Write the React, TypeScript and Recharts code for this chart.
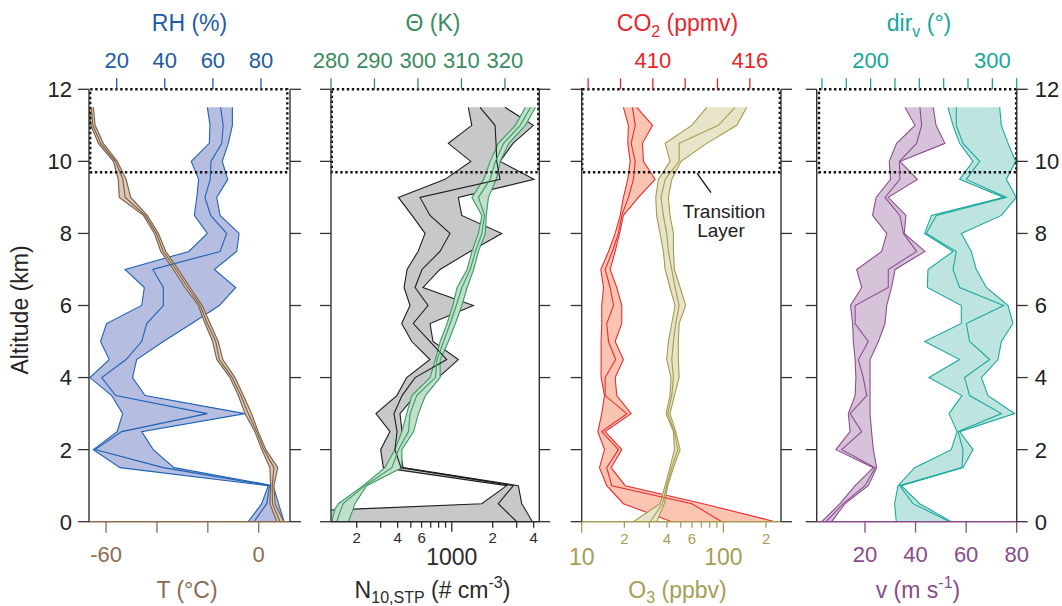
import React from 'react';
import { ComposedChart, Area, Line, XAxis, YAxis, ReferenceArea, ReferenceLine } from 'recharts';

const FONT = '"Liberation Sans", Arial, Helvetica, sans-serif';

// ---------- altitude levels (km) ----------
const ALT = [0, 0.5, 1, 1.5, 2, 2.5, 3, 3.5, 4, 4.5, 5, 5.5, 6, 6.5, 7, 7.5, 8, 8.5, 9, 9.5, 10, 10.5, 11, 11.5];
const ALT_N = [0, 0.35, 0.5, 1, 1.5, 2, 2.5, 3, 3.5, 4, 4.5, 5, 5.5, 6, 6.5, 7, 7.5, 8, 8.5, 9, 9.5, 10, 10.5, 11, 11.5];

// ---------- panel 1: RH (%) and T (°C) ----------
const rhLow = [74.7, 80.3, 83.0, 21.4, 10.3, 20.2, 22.5, 17.9, 8.9, 16.9, 13.3, 15.8, 30.4, 31.5, 23.5, 50.0, 57.7, 52.3, 53.3, 54.1, 51.0, 58.5, 58.8, 57.7];
const rhMed = [77.1, 82.4, 83.5, 39.4, 11.0, 22.1, 57.7, 19.6, 13.8, 23.9, 30.4, 32.5, 39.4, 39.4, 35.0, 63.0, 65.7, 59.1, 56.7, 58.9, 59.2, 63.7, 64.3, 63.2];
const rhHigh = [89.6, 87.3, 85.1, 43.8, 35.2, 30.4, 73.3, 31.8, 26.6, 28.3, 39.4, 51.2, 62.7, 69.5, 60.6, 69.9, 70.9, 63.0, 61.6, 66.2, 63.9, 66.4, 68.1, 68.1];
const tLow = [7.1, 4.4, 4.7, 4.4, 1.2, -1.5, -5.4, -8.0, -11.3, -16.5, -18.1, -21.1, -23.7, -29.0, -33.5, -38.5, -41.0, -45.3, -54.8, -55.2, -57.1, -63.0, -66.0, -66.6];
const tMed = [8.4, 5.4, 5.3, 6.0, 2.0, -0.8, -4.1, -7.0, -10.4, -15.5, -16.9, -20.2, -23.0, -27.9, -32.5, -37.5, -40.2, -44.6, -52.5, -53.4, -56.3, -62.1, -65.2, -65.8];
const tHigh = [9.9, 6.4, 6.0, 7.5, 2.8, -0.2, -2.8, -6.0, -9.3, -14.1, -15.9, -19.1, -22.2, -27.0, -31.6, -36.5, -39.4, -43.8, -50.3, -52.1, -55.6, -61.1, -64.3, -65.0];

// ---------- panel 2: Theta (K) and N10,STP (# cm-3), on ALT_N ----------
const thLow = [280.2, 280.9, 281.7, 287.4, 292.4, 294.7, 296.3, 297.4, 298.6, 302.8, 304.0, 305.1, 306.7, 308.0, 309.0, 311.3, 312.4, 313.9, 314.7, 312.4, 315.1, 316.6, 318.5, 322.4, 324.7];
const thMed = [281.3, 282.3, 282.8, 287.8, 294.0, 295.5, 297.8, 298.2, 299.7, 304.0, 304.4, 305.9, 307.4, 308.8, 310.1, 312.0, 313.2, 314.7, 315.3, 313.9, 316.6, 317.8, 319.7, 323.5, 325.9];
const thHigh = [284.0, 285.1, 285.5, 288.2, 296.3, 296.3, 299.0, 300.1, 301.7, 305.1, 305.1, 307.0, 308.6, 310.1, 311.3, 312.8, 313.9, 315.5, 315.7, 316.2, 318.0, 318.9, 320.9, 324.7, 327.0];
const nLow = [1, 189, 1660, 2535, 314, 300, 351, 277, 394, 466, 692, 508, 428, 493, 446, 469, 565, 636, 510, 405, 892, 1380, 943, 1403, 1323];
const nMed = [3002, 2414, 2198, 2835, 423, 382, 396, 376, 431, 537, 918, 692, 521, 669, 537, 604, 819, 970, 692, 584, 2263, 2140, 2115, 2080, 1613];
const nHigh = [3910, 3455, 3268, 3086, 438, 416, 431, 416, 537, 795, 1117, 728, 692, 1440, 614, 819, 1361, 2329, 1183, 1117, 4024, 2263, 2820, 3977, 2461];

// ---------- panel 3: CO2 (ppmv) and O3 (ppbv) ----------
const co2Low = [411.17, 408.18, 407.15, 406.70, 407.01, 406.60, 406.84, 407.01, 406.80, 406.80, 406.80, 406.84, 406.84, 406.95, 406.78, 407.26, 407.67, 407.98, 408.18, 408.45, 408.60, 408.45, 408.49, 408.18];
const co2Med = [414.27, 412.41, 407.46, 407.15, 407.87, 406.84, 408.39, 407.05, 407.05, 407.70, 407.26, 407.15, 407.57, 407.36, 407.05, 407.50, 407.87, 408.08, 408.49, 408.80, 408.91, 408.66, 408.91, 408.74];
const co2High = [417.56, 413.11, 408.29, 407.42, 408.08, 407.05, 408.66, 407.77, 407.67, 408.18, 407.67, 408.08, 408.08, 407.77, 407.36, 407.67, 407.94, 408.18, 409.11, 410.14, 409.42, 409.36, 409.98, 409.01];
const o3Low = [23.2, 35.7, 38.8, 42.0, 45.1, 44.4, 39.4, 42.0, 42.7, 39.8, 40.9, 43.2, 45.6, 42.0, 38.8, 37.7, 35.7, 33.8, 33.3, 34.8, 42.0, 38.8, 59.8, 76.3];
const o3Med = [30.4, 37.1, 39.8, 43.2, 47.6, 45.1, 40.5, 43.2, 44.4, 43.2, 44.4, 46.1, 48.7, 45.6, 43.2, 40.9, 39.8, 37.7, 36.3, 38.8, 48.7, 48.7, 92.2, 120.9];
const o3High = [33.8, 38.3, 40.5, 44.4, 49.5, 46.1, 42.0, 45.1, 48.7, 48.1, 48.1, 48.7, 54.2, 49.5, 45.1, 44.4, 44.4, 42.0, 40.9, 43.2, 50.3, 76.3, 124.3, 146.2];

// ---------- panel 4: dir_v (°) and v (m s-1) ----------
const vLow = [2.9, 10.1, 16.1, 23.3, 8.5, 14.1, 13.4, 16.1, 16.4, 16.1, 15.4, 15.1, 14.3, 18.7, 16.7, 26.6, 28.6, 23.0, 24.4, 30.1, 29.6, 32.5, 39.8, 35.8];
const vMed = [4.6, 11.4, 20.0, 24.0, 10.8, 18.7, 14.1, 20.7, 19.3, 17.4, 21.3, 16.1, 16.1, 29.2, 29.2, 40.4, 35.2, 33.8, 27.9, 33.8, 33.6, 40.4, 42.4, 41.7];
const vHigh = [6.8, 12.1, 21.3, 24.6, 23.3, 22.6, 22.0, 22.0, 22.0, 22.0, 25.3, 27.9, 28.6, 30.5, 31.9, 43.7, 35.5, 36.2, 29.2, 40.7, 33.8, 51.6, 48.1, 47.0];
const dirLow = [221.1, 219.7, 222.5, 236.2, 266.3, 271.0, 264.4, 275.0, 247.9, 273.1, 244.4, 274.5, 274.5, 246.6, 247.1, 267.7, 244.4, 249.9, 309.3, 273.1, 284.1, 273.1, 267.7, 263.5];
const dirMed = [264.9, 234.8, 223.8, 275.0, 275.9, 271.8, 307.4, 281.3, 277.2, 297.8, 281.3, 278.6, 309.3, 273.1, 267.7, 270.4, 245.7, 254.0, 311.5, 278.6, 289.6, 275.9, 270.4, 270.4];
const dirHigh = [266.3, 240.3, 225.2, 275.9, 284.1, 273.1, 318.3, 296.4, 291.0, 304.6, 307.4, 316.9, 312.9, 295.1, 286.8, 282.7, 274.5, 307.4, 319.6, 311.5, 319.1, 312.9, 307.4, 306.0];

// ---------- transition layer ----------
const TRANSITION = [9.7, 12];

// ---------- ticks and tick labels ----------
const ALT_TICKS = [0, 2, 4, 6, 8, 10, 12];
const RH_TICKS = [20, 40, 60, 80];
const T_TICKS = [-60, -40, -20, 0];
const T_LABELS: Record<number, string> = { [-60]: '-60', 0: '0' };
const TH_TICKS = [280, 290, 300, 310, 320];
const N_TICKS = [200, 300, 400, 500, 600, 700, 800, 900, 1000, 2000, 3000, 4000];
const N_LABELS: Record<number, string> = { 200: '2', 400: '4', 600: '6', 1000: '1000', 2000: '2', 4000: '4' };
const CO2_TICKS = [406, 408, 410, 412, 414, 416];
const CO2_LABELS: Record<number, string> = { 410: '410', 416: '416' };
const O3_TICKS = [10, 20, 30, 40, 50, 60, 70, 80, 90, 100, 200];
const O3_LABELS: Record<number, string> = { 10: '10', 20: '2', 40: '4', 60: '6', 100: '100', 200: '2' };
const DIR_TICKS = [160, 180, 200, 220, 240, 260, 280, 300, 320];
const DIR_LABELS: Record<number, string> = { 200: '200', 300: '300' };
const V_TICKS = [20, 40, 60, 80];

// ---------- domains ----------
const RH_DOM: [number, number] = [8.5, 92.06];
const T_DOM: [number, number] = [-66.7, 12.3];
const TH_DOM: [number, number] = [280, 327.9];
const N_DOM: [number, number] = [129.4, 4400];
const CO2_DOM: [number, number] = [405.6, 417.93];
const O3_DOM: [number, number] = [10, 255];
const DIR_DOM: [number, number] = [155.7, 320];
const V_DOM: [number, number] = [0.9, 80];
const ALT_DOM: [number, number] = [0, 12];

// ---------- layout ----------
const W = 1062, H = 606;
const PT = 89.3, PB = 521.7, AXS = 20;
const P1 = [89, 290], P2 = [331, 539.3], P3 = [581.7, 781], P4 = [816.7, 1016.7];

const C = {
  rh: { text: '#1b5ca8', line: '#1f63b6', fill: '#b5bde1' },
  t: { text: '#8b6c50', line: '#7a5d45', fill: '#d9c8b6' },
  th: { text: '#3a8b5d', line: '#3a9963', fill: '#c0e0ca' },
  n: { text: '#2a2a2a', line: '#1f1f1f', fill: '#c7c8ca' },
  co2: { text: '#e8262b', line: '#ec2b30', fill: '#f9c4b1' },
  o3: { text: '#a69e55', line: '#a39b50', fill: '#e7e4c7' },
  dir: { text: '#14a89b', line: '#1aa99c', fill: '#bee4e0' },
  v: { text: '#8a4a8b', line: '#8c4e8e', fill: '#d6c3da' },
  spine: '#333333',
  ink: '#222222',
};

const rows1 = ALT.map((alt, i) => ({ alt, rh: [rhLow[i], rhHigh[i]], rhMed: rhMed[i], t: [tLow[i], tHigh[i]], tMed: tMed[i] }));
const rows2 = ALT_N.map((alt, i) => ({ alt, n: [nLow[i], nHigh[i]], nMed: nMed[i], th: [thLow[i], thHigh[i]], thMed: thMed[i] }));
const rows3 = ALT.map((alt, i) => ({ alt, co2: [co2Low[i], co2High[i]], co2Med: co2Med[i], o3: [o3Low[i], o3High[i]], o3Med: o3Med[i] }));
const rows4 = ALT.map((alt, i) => ({ alt, v: [vLow[i], vHigh[i]], vMed: vMed[i], dir: [dirLow[i], dirHigh[i]], dirMed: dirMed[i] }));

type Side = 'top' | 'bottom' | 'left' | 'right';
function mkTick(side: Side, color: string, opts: {
  len?: (v: number) => number; label?: (v: number) => string | null; size?: (v: number) => number; off?: (v: number) => number; textColor?: string;
}) {
  const lenF = opts.len || (() => 11);
  const labF = opts.label || ((v: number) => String(v));
  const sizeF = opts.size || (() => 22);
  const offF = opts.off || (() => 21);
  const TickComp = (props: any) => {
    const { x, y, payload } = props;
    const v = payload && payload.value;
    const L = lenF(v);
    const lab = labF(v);
    const fs = sizeF(v);
    const off = offF(v);
    let x2 = x, y2 = y, tx = x, ty = y;
    let anchor: 'middle' | 'start' | 'end' = 'middle';
    if (side === 'top') { y2 = y - L; ty = y - off; }
    else if (side === 'bottom') { y2 = y + L; ty = y + off; }
    else if (side === 'left') { x2 = x - L; tx = x - off; ty = y + fs * 0.36; anchor = 'end'; }
    else { x2 = x + L; tx = x + off; ty = y + fs * 0.36; anchor = 'start'; }
    return (
      <g>
        <line x1={x} y1={y} x2={x2} y2={y2} stroke={color} strokeWidth={1.3} />
        {lab != null && lab !== '' && (
          <text x={tx} y={ty} textAnchor={anchor} fill={opts.textColor || color} fontSize={fs} fontFamily={FONT}>{lab}</text>
        )}
      </g>
    );
  };
  return TickComp;
}

const noLabel = () => null;
const leftLabelTick = mkTick('left', C.spine, { label: (v) => String(v), off: () => 17, textColor: C.ink });
const leftPlainTick = mkTick('left', C.spine, { label: noLabel });
const rightPlainTick = mkTick('right', C.spine, { label: noLabel });
const rightLabelTick = mkTick('right', C.spine, { label: (v) => String(v), off: () => 18, textColor: C.ink });

const lin = (d: [number, number], w: number, px: number) => d[0] + (d[1] - d[0]) * px / w;

type AxCfg = { domain: [number, number]; scale: 'linear' | 'log'; ticks: number[]; tick: any; line: any };

function Panel(p: {
  x: number[]; data: any[]; top: AxCfg; bottom: AxCfg; leftTick: any; rightTick: any; children: React.ReactNode;
}) {
  return (
    <div style={{ position: 'absolute', left: 0, top: 0 }}>
      <ComposedChart
        layout="vertical"
        width={W}
        height={H}
        data={p.data}
        margin={{ top: PT - AXS, bottom: H - PB - AXS, left: p.x[0] - AXS, right: W - p.x[1] - AXS }}
      >
        <XAxis xAxisId="top" orientation="top" type="number" scale={p.top.scale} domain={p.top.domain} allowDataOverflow
          ticks={p.top.ticks} interval={0} tickSize={0} tickMargin={0} tickLine={false} axisLine={p.top.line} height={AXS} tick={p.top.tick} />
        <XAxis xAxisId="bottom" orientation="bottom" type="number" scale={p.bottom.scale} domain={p.bottom.domain} allowDataOverflow
          ticks={p.bottom.ticks} interval={0} tickSize={0} tickMargin={0} tickLine={false} axisLine={p.bottom.line} height={AXS} tick={p.bottom.tick} />
        <YAxis yAxisId="L" orientation="left" type="number" dataKey="alt" domain={ALT_DOM} allowDataOverflow ticks={ALT_TICKS} reversed
          interval={0} width={AXS} tickSize={0} tickMargin={0} tickLine={false} axisLine={{ stroke: C.spine, strokeWidth: 1.4 }} tick={p.leftTick} />
        <YAxis yAxisId="R" orientation="right" type="number" dataKey="alt" domain={ALT_DOM} allowDataOverflow ticks={ALT_TICKS} reversed
          interval={0} width={AXS} tickSize={0} tickMargin={0} tickLine={false} axisLine={{ stroke: C.spine, strokeWidth: 1.4 }} tick={p.rightTick} />
        {p.children}
      </ComposedChart>
    </div>
  );
}

function band(key: string, axis: string, col: { line: string; fill: string }) {
  return (
    <Area key={key} xAxisId={axis} yAxisId="L" dataKey={key} type="linear" fill={col.fill} fillOpacity={1}
      stroke={col.line} strokeWidth={1.1} dot={false} activeDot={false} isAnimationActive={false} />
  );
}
function median(key: string, axis: string, col: { line: string }) {
  return (
    <Line key={key} xAxisId={axis} yAxisId="L" dataKey={key} type="linear" stroke={col.line} strokeWidth={1.1}
      dot={false} activeDot={false} isAnimationActive={false} />
  );
}
function box(axis: string, x1: number, x2: number) {
  return (
    <ReferenceArea key="box" xAxisId={axis} yAxisId="L" x1={x1} x2={x2} y1={TRANSITION[0]} y2={TRANSITION[1]}
      fill="none" fillOpacity={0} stroke="#111" strokeWidth={2.4} strokeDasharray="2.4 2.6" ifOverflow="visible" />
  );
}

export default function App() {
  const w1 = P1[1] - P1[0], w2 = P2[1] - P2[0], w3 = P3[1] - P3[0], w4 = P4[1] - P4[0];
  const smallN = (v: number) => (v === 1000 ? 23 : 15);
  return (
    <div style={{ position: 'absolute', left: 0, top: 0, width: W, height: H, background: '#ffffff', overflow: 'hidden', fontFamily: FONT }}>
      {/* Panel 1 */}
      <Panel
        x={P1}
        data={rows1}
        top={{ domain: RH_DOM, scale: 'linear', ticks: RH_TICKS, tick: mkTick('top', C.rh.text, {}), line: false }}
        bottom={{ domain: T_DOM, scale: 'linear', ticks: T_TICKS, tick: mkTick('bottom', C.t.text, { label: (v) => T_LABELS[v] ?? null, off: () => 40 }), line: { stroke: C.t.text, strokeWidth: 1.5 } }}
        leftTick={leftLabelTick}
        rightTick={rightPlainTick}
      >
        {band('rh', 'top', C.rh)}
        {median('rhMed', 'top', C.rh)}
        {band('t', 'bottom', C.t)}
        {median('tMed', 'bottom', C.t)}
        {box('bottom', lin(T_DOM, w1, 1.2), lin(T_DOM, w1, w1 - 2.7))}
      </Panel>

      {/* Panel 2 */}
      <Panel
        x={P2}
        data={rows2}
        top={{ domain: TH_DOM, scale: 'linear', ticks: TH_TICKS, tick: mkTick('top', C.th.text, {}), line: false }}
        bottom={{
          domain: N_DOM, scale: 'log', ticks: N_TICKS,
          tick: mkTick('bottom', C.n.text, { label: (v) => N_LABELS[v] ?? null, len: (v) => (v === 1000 ? 10 : 6), size: smallN, off: (v) => (v === 1000 ? 43.3 : 21.6) }),
          line: { stroke: C.n.text, strokeWidth: 1.5 },
        }}
        leftTick={leftPlainTick}
        rightTick={rightPlainTick}
      >
        {band('n', 'bottom', C.n)}
        {median('nMed', 'bottom', C.n)}
        {band('th', 'top', C.th)}
        {median('thMed', 'top', C.th)}
        {box('top', lin(TH_DOM, w2, 0.8), lin(TH_DOM, w2, w2 - 1))}
      </Panel>

      {/* Panel 3 */}
      <Panel
        x={P3}
        data={rows3}
        top={{ domain: CO2_DOM, scale: 'linear', ticks: CO2_TICKS, tick: mkTick('top', C.co2.text, { label: (v) => CO2_LABELS[v] ?? null }), line: false }}
        bottom={{
          domain: O3_DOM, scale: 'log', ticks: O3_TICKS,
          tick: mkTick('bottom', C.o3.text, { label: (v) => O3_LABELS[v] ?? null, len: (v) => (v === 10 || v === 100 ? 11 : 6), size: (v) => (v === 10 || v === 100 ? 23 : 15), off: (v) => (v === 10 || v === 100 ? 43.3 : 22) }),
          line: { stroke: C.o3.text, strokeWidth: 1.5 },
        }}
        leftTick={leftPlainTick}
        rightTick={rightPlainTick}
      >
        {band('co2', 'top', C.co2)}
        {median('co2Med', 'top', C.co2)}
        {band('o3', 'bottom', C.o3)}
        {median('o3Med', 'bottom', C.o3)}
        {box('top', lin(CO2_DOM, w3, 0.5), lin(CO2_DOM, w3, w3 - 1.2))}
        <ReferenceLine key="leader" xAxisId="top" yAxisId="L" segment={[{ x: 412.74, y: 9.67 }, { x: 413.6, y: 9.13 }]}
          stroke="#111" strokeWidth={1.3} ifOverflow="visible" />
      </Panel>

      {/* Panel 4 */}
      <Panel
        x={P4}
        data={rows4}
        top={{ domain: DIR_DOM, scale: 'linear', ticks: DIR_TICKS, tick: mkTick('top', C.dir.text, { label: (v) => DIR_LABELS[v] ?? null }), line: false }}
        bottom={{ domain: V_DOM, scale: 'linear', ticks: V_TICKS, tick: mkTick('bottom', C.v.text, { off: () => 40 }), line: { stroke: C.v.text, strokeWidth: 1.5 } }}
        leftTick={leftPlainTick}
        rightTick={rightLabelTick}
      >
        {band('v', 'bottom', C.v)}
        {median('vMed', 'bottom', C.v)}
        {band('dir', 'top', C.dir)}
        {median('dirMed', 'top', C.dir)}
        {box('top', lin(DIR_DOM, w4, 2.3), lin(DIR_DOM, w4, w4 - 0.6))}
      </Panel>

      {/* Titles and annotation */}
      <svg width={W} height={H} style={{ position: 'absolute', left: 0, top: 0, pointerEvents: 'none' }} fontFamily={FONT}>
        <text x={189.5} y={31} textAnchor="middle" fontSize={23} fill={C.rh.text}>RH (%)</text>
        <text x={433} y={31} textAnchor="middle" fontSize={23} fill={C.th.text}>Θ (K)</text>
        <text x={677.5} y={31} textAnchor="middle" fontSize={23} fill={C.co2.text}>
          CO<tspan fontSize={16} dy={6}>2</tspan><tspan dy={-6}> (ppmv)</tspan>
        </text>
        <text x={919} y={31} textAnchor="middle" fontSize={23} fill={C.dir.text}>
          dir<tspan fontSize={16} dy={6}>v</tspan><tspan dy={-6}> (°)</tspan>
        </text>
        <text x={187} y={598} textAnchor="middle" fontSize={23} fill={C.t.text}>T (°C)</text>
        <text x={432.5} y={598} textAnchor="middle" fontSize={23} fill={C.n.text}>
          N<tspan fontSize={16} dy={5}>10,STP</tspan><tspan dy={-5}> (# cm</tspan><tspan fontSize={16} dy={-10}>-3</tspan><tspan dy={10}>)</tspan>
        </text>
        <text x={677.5} y={598} textAnchor="middle" fontSize={23} fill={C.o3.text}>
          O<tspan fontSize={16} dy={5}>3</tspan><tspan dy={-5}> (ppbv)</tspan>
        </text>
        <text x={918} y={598} textAnchor="middle" fontSize={23} fill={C.v.text}>
          v (m s<tspan fontSize={16} dy={-10}>-1</tspan><tspan dy={10}>)</tspan>
        </text>
        <text transform="rotate(-90)" x={-310} y={28} textAnchor="middle" fontSize={23} fill={C.ink}>Altitude (km)</text>
        <text x={724} y={218.3} textAnchor="middle" fontSize={19} fill={C.ink}>Transition</text>
        <text x={721} y={237.3} textAnchor="middle" fontSize={19} fill={C.ink}>Layer</text>
      </svg>
    </div>
  );
}
